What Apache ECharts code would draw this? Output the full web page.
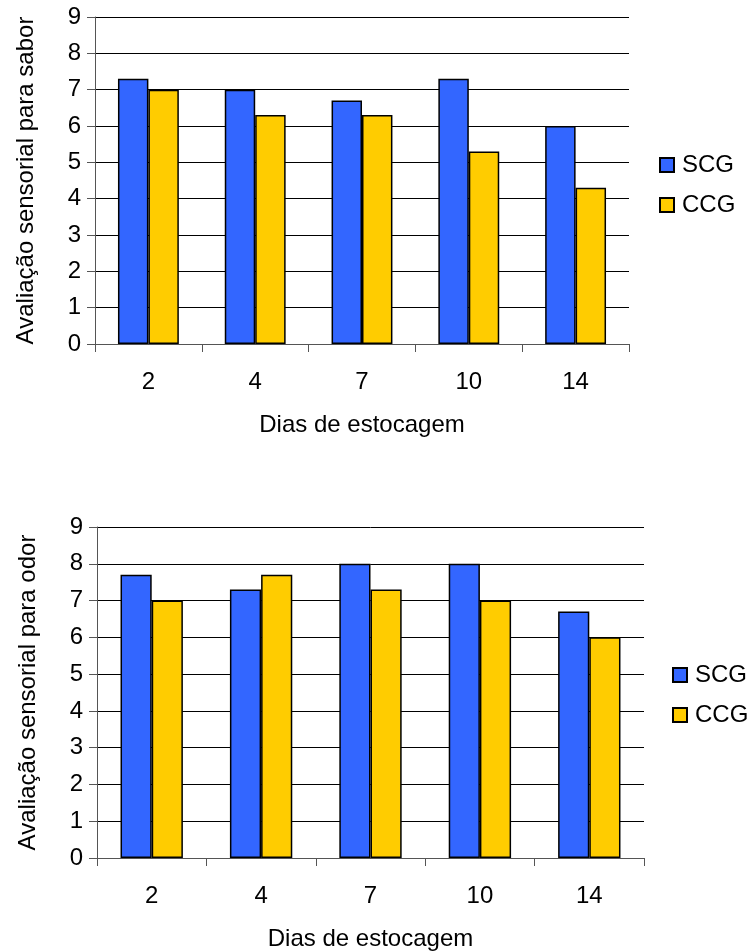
<!DOCTYPE html>
<html>
<head>
<meta charset="utf-8">
<script src="https://cdn.jsdelivr.net/npm/echarts@6/dist/echarts.min.js"></script>
<style>
html,body{margin:0;padding:0;background:#fff;}
#c{width:747px;height:952px;}
</style>
</head>
<body>
<div id="c"></div>
<script>
const categories = ['2', '4', '7', '10', '14'];
const saborSCG = [7.3, 7.0, 6.7, 7.3, 6.0];
const saborCCG = [7.0, 6.3, 6.3, 5.3, 4.3];
const odorSCG = [7.7, 7.3, 8.0, 8.0, 6.7];
const odorCCG = [7.0, 7.7, 7.3, 7.0, 6.0];
const seriesNames = ['SCG', 'CCG'];
const yTitles = ['Avaliação sensorial para sabor', 'Avaliação sensorial para odor'];
const xTitle = 'Dias de estocagem';

const FONT = '"Liberation Sans", Arial, sans-serif';
const FS = 24;
const BLUE = '#3366FF', YELLOW = '#FFCC00';

function xAxis(gi) {
  return {
    type: 'category', gridIndex: gi, data: categories,
    axisLine: {lineStyle: {color: '#555', width: 1}},
    axisTick: {show: true, length: 8, lineStyle: {color: '#555'}},
    axisLabel: {color: '#000', fontSize: FS, fontFamily: FONT, margin: 26},
    name: xTitle, nameLocation: 'middle', nameGap: 69,
    nameTextStyle: {color: '#000', fontSize: FS, fontFamily: FONT}
  };
}
function yAxis(gi, title) {
  return {
    type: 'value', gridIndex: gi, min: 0, max: 9, interval: 1,
    axisLine: {show: true, lineStyle: {color: '#555', width: 1}},
    axisTick: {show: true, length: 8, lineStyle: {color: '#555'}},
    axisLabel: {color: '#000', fontSize: FS, fontFamily: FONT, margin: 14},
    splitLine: {lineStyle: {color: '#000', width: 1}},
    name: title, nameLocation: 'middle', nameGap: 57,
    nameTextStyle: {color: '#000', fontSize: FS, fontFamily: FONT}
  };
}
function bar(name, data, color, gi) {
  return {
    type: 'bar', name: name, data: data, xAxisIndex: gi, yAxisIndex: gi,
    barGap: '0%', barCategoryGap: '43%',
    itemStyle: {color: color, borderColor: '#000', borderWidth: 1.5},
    animation: false
  };
}
function legend(left, top) {
  return {orient: 'vertical', left: left, top: top, padding: 0, icon: 'rect',
    itemWidth: 14, itemHeight: 14, itemGap: 16,
    data: seriesNames,
    textStyle: {color: '#000', fontSize: FS, fontFamily: FONT, padding: [0, 0, 0, 3]}};
}

const chart = echarts.init(document.getElementById('c'));
chart.setOption({
  backgroundColor: '#fff',
  animation: false,
  grid: [
    {left: 95, top: 17, width: 534, height: 327},
    {left: 97, top: 527, width: 547, height: 332}
  ],
  xAxis: [xAxis(0), xAxis(1)],
  yAxis: [yAxis(0, yTitles[0]), yAxis(1, yTitles[1])],
  legend: [legend(659, 153), legend(672, 663)],
  series: [
    bar(seriesNames[0], saborSCG, BLUE, 0),
    bar(seriesNames[1], saborCCG, YELLOW, 0),
    bar(seriesNames[0], odorSCG, BLUE, 1),
    bar(seriesNames[1], odorCCG, YELLOW, 1)
  ]
});
</script>
</body>
</html>
